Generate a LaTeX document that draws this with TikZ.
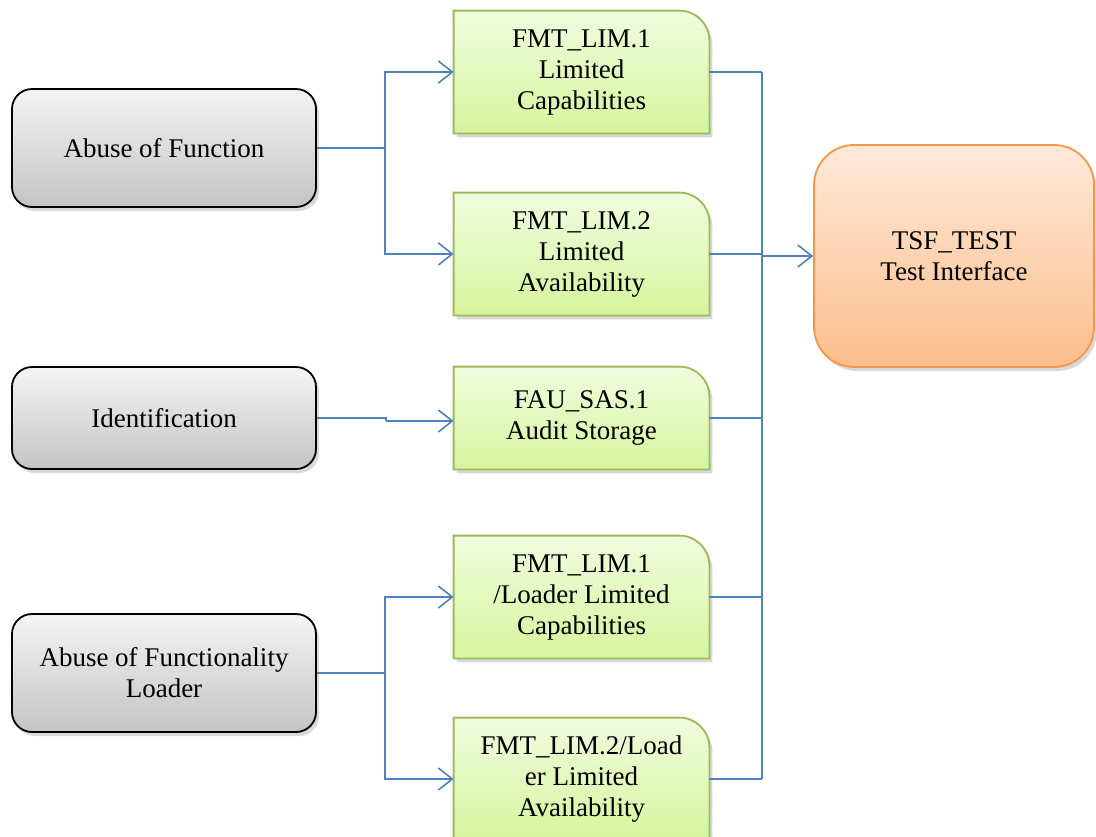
\documentclass[tikz,border=0pt]{standalone}
\usepackage{fontspec}
\setmainfont{LiberationSerif}[Extension=.ttf, UprightFont=*-Regular, BoldFont=*-Bold]
\usetikzlibrary{arrows.meta,shadows,backgrounds}

\definecolor{linkblue}{RGB}{79,129,189}
\definecolor{graytop}{RGB}{244,244,244}
\definecolor{graybot}{RGB}{196,196,196}
\definecolor{sfrline}{RGB}{155,187,89}
\definecolor{sfrtop}{RGB}{240,251,222}
\definecolor{sfrbot}{RGB}{214,245,158}
\definecolor{tsfline}{RGB}{247,150,70}
\definecolor{tsftop}{RGB}{253,233,217}
\definecolor{tsfbot}{RGB}{251,190,140}

\newcommand{\boxfont}{\rmfamily\fontsize{13.5pt}{15.5pt}\selectfont}

\begin{document}
\begin{tikzpicture}[x=0.5pt, y=-0.5pt,
    soft/.style={drop shadow={opacity=0.3, shadow xshift=1.5pt, shadow yshift=-2pt}},
    threat/.style={draw=black, line width=0.9pt, rounded corners=10pt, top color=graytop,
      bottom color=graybot, minimum width=152pt, minimum height=59pt, align=center,
      font=\boxfont, soft},
    sfr/.style={minimum width=127.5pt, minimum height=61pt, align=center, font=\boxfont},
    sfrshape/.style={draw=sfrline, line width=0.9pt, top color=sfrtop, bottom color=sfrbot, soft},
    tsf/.style={draw=tsfline, line width=0.9pt, rounded corners=20pt, top color=tsftop,
      bottom color=tsfbot, minimum width=140pt, minimum height=111pt, align=center,
      font=\boxfont, soft},
    link/.style={draw=linkblue, line width=0.8pt},
    feed/.style={link, -{Straight Barb[length=7pt,width=11pt]}}]
  \useasboundingbox (0,0) rectangle (1096,836);

  % threats
  \node[threat] (abuse)  at (164,148) {Abuse of Function};
  \node[threat, minimum height=51pt] (ident) at (164,418) {Identification};
  \node[threat] (loader) at (164,673) {Abuse of Functionality\\Loader};

  % SFRs
  \node[sfr] (lim1)  at (581.5,72)  {FMT\_LIM.1\\Limited\\Capabilities};
  \node[sfr] (lim2)  at (581.5,254) {FMT\_LIM.2\\Limited\\Availability};
  \node[sfr, minimum height=51pt] (sas) at (581.5,418) {FAU\_SAS.1\\Audit Storage};
  \node[sfr] (llim1) at (581.5,597) {FMT\_LIM.1\\/Loader Limited\\Capabilities};
  \node[sfr] (llim2) at (581.5,779) {FMT\_LIM.2/Load\\er Limited\\Availability};

  \begin{scope}[on background layer]
    \foreach \g in {lim1,lim2,sas,llim1,llim2}
      \path[sfrshape] (\g.south west) -- (\g.north west) -- ([xshift=-15pt]\g.north east)
        .. controls ([xshift=-6.7pt]\g.north east) and ([yshift=-6.7pt]\g.north east)
        .. ([yshift=-15pt]\g.north east) -- (\g.south east) -- cycle;
  \end{scope}

  % interface
  \node[tsf] (test) at (954,256) {TSF\_TEST\\Test Interface};

  % left side
  \coordinate (split1) at (385,148);
  \coordinate (split2) at (385,673);
  \draw[link] (abuse.east) -- (split1);
  \draw[feed] (split1) |- (lim1.west);
  \draw[feed] (split1) |- (lim2.west);
  \draw[link] (ident.east) -- ++(69,0) -- ++(0,3) coordinate (jog);
  \draw[feed] (jog) -- (jog -| sas.west);
  \draw[link] (loader.east) -- (split2);
  \draw[feed] (split2) |- (llim1.west);
  \draw[feed] (split2) |- (llim2.west);

  % right side
  \coordinate (bus) at (762,256);
  \foreach \g in {lim1,lim2,sas,llim1,llim2}
    \draw[link] (\g.east) -- (\g.east -| bus);
  \draw[link] (lim1.east -| bus) -- (llim2.east -| bus);
  \draw[feed] (bus) -- (test.west);
\end{tikzpicture}
\end{document}
